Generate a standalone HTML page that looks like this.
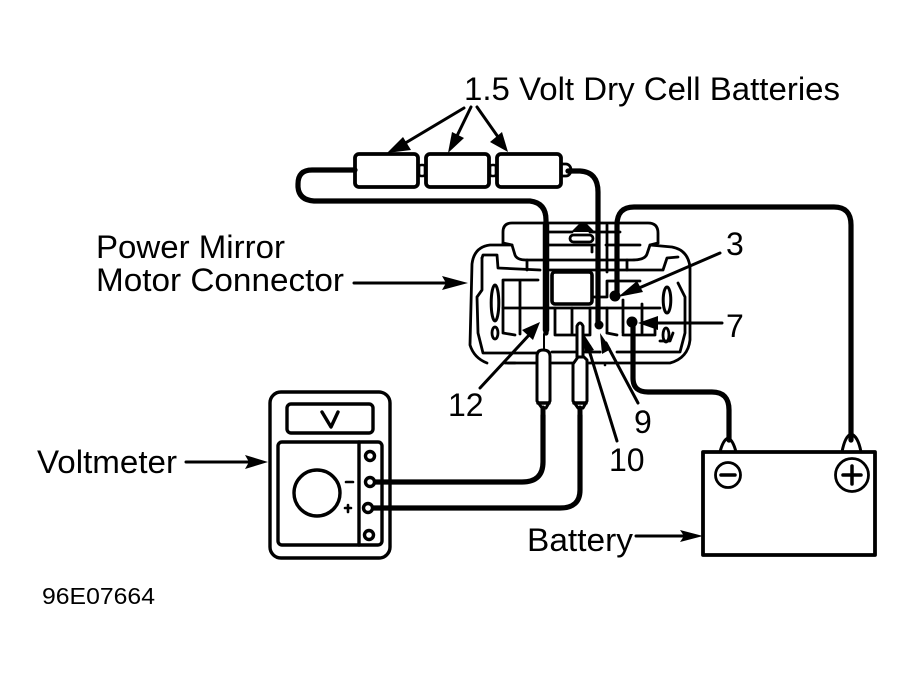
<!DOCTYPE html>
<html><head><meta charset="utf-8">
<style>
html,body{margin:0;padding:0;background:#fff;width:915px;height:680px;overflow:hidden}
svg{display:block}
text{font-family:"Liberation Sans",sans-serif;fill:#000}
.t{font-size:32px}
path,rect,circle,ellipse,line{stroke:#000;fill:none;stroke-linejoin:round;stroke-linecap:round}
.h{fill:#000;stroke:none}
</style></head><body>
<svg width="915" height="680" viewBox="0 0 915 680" xmlns="http://www.w3.org/2000/svg">
<text class="t" x="464" y="100" textLength="376" lengthAdjust="spacingAndGlyphs">1.5 Volt Dry Cell Batteries</text>
<text class="t" x="96" y="258" textLength="189" lengthAdjust="spacingAndGlyphs">Power Mirror</text>
<text class="t" x="96" y="291" textLength="248" lengthAdjust="spacingAndGlyphs">Motor Connector</text>
<text class="t" x="37" y="473" textLength="140" lengthAdjust="spacingAndGlyphs">Voltmeter</text>
<text class="t" x="527" y="551" textLength="106" lengthAdjust="spacingAndGlyphs">Battery</text>
<text class="t" x="726" y="255">3</text>
<text class="t" x="726" y="337">7</text>
<text class="t" x="448" y="416">12</text>
<text class="t" x="634" y="433">9</text>
<text class="t" x="609" y="471">10</text>
<text x="42" y="604" style="font-size:23px" textLength="113" lengthAdjust="spacingAndGlyphs">96E07664</text>

<!-- batteries -->
<g stroke-width="3.8">
<rect x="355" y="154" width="63" height="33" rx="4"/>
<rect x="426" y="154" width="63" height="33" rx="4"/>
<rect x="497" y="154" width="64" height="33" rx="4"/>
<rect x="419" y="165" width="6" height="11" rx="2" stroke-width="2.6"/>
<rect x="490" y="165" width="6" height="11" rx="2" stroke-width="2.6"/>
<path d="M562 164h4a5 6 0 0 1 0 12h-4" stroke-width="2.8"/>
</g>
<!-- battery label arrows -->
<g stroke-width="3">
<path d="M464 108L397 148M471 107L455 140M477 107L503 144"/>
</g>
<path class="h" d="M387 153L403 137L411 150Z"/>
<path class="h" d="M448 153L452 132L464 138Z"/>
<path class="h" d="M508 152L490 142L502 132Z"/>

<!-- connector -->
<g stroke-width="2.8">
<path d="M503 243V232Q503 223 512 223H648Q658 223 658 233V243"/>
<path d="M503 243L512 245L515 255Q517 260 526 260H632Q645 260 647 254L650 245L658 243"/>
<path d="M512 245H490Q474 247 472 264L470 345Q474 358 487 363M508 363H540M552 363H670Q688 358 690 340V267Q688 250 672 247L650 245"/>
<path d="M482 258L483 255H497L498 268L540 270M550 270H663L667 258L678 257"/>
<path d="M482 258V290L477 297L478 333L483 353H537M678 283L685 297V333L680 352H617M552 352H600"/>
<path d="M505 363H515M503 333V280H538M520 280V334M503 333L515 335"/>
<path d="M503 308H660"/>
<rect x="552" y="272" width="40" height="32" rx="3" stroke-width="3.6"/>
<path d="M592 297H607M607 297V281H640M607 333L617 335M623 300V333M642 304V333M623 335H655M655 335V325M660 341H670L673 333"/>
<path d="M555 308V335H590M572 308V335M590 308V335M607 308V333"/>
<ellipse cx="495" cy="303" rx="3.8" ry="18" stroke-width="3"/>
<ellipse cx="495" cy="333" rx="3" ry="6"/>
<ellipse cx="667" cy="300" rx="3.8" ry="13" stroke-width="3"/>
<ellipse cx="666" cy="335" rx="3" ry="7"/>
<path d="M548 232H572M590 232H620M548 245H596M606 245H640"/>
<rect x="570" y="235" width="23" height="7" rx="3.5"/>
<path d="M527 260V270M607 225V272M627 260V270M592 245V252"/>
</g>
<path class="h" d="M571 232L580 223H586L595 232Z"/>

<!-- wires -->
<g stroke-width="5.2">
<path d="M355 170H312Q298 170 298 184V187Q299 200 314 201H530Q546 203 546 220V333"/>
<path d="M568 171H580Q598 172 598 192V326"/>
<path d="M851 440V225Q851 207 834 207H634Q617 207 617 225V296"/>
<path d="M633 322V378Q633 392 648 392H712Q729 392 729 410V440"/>
<path d="M543 415V462Q543 482 522 482H376"/>
<path d="M580 415V490Q580 508 560 508H374"/>
</g>
<path d="M546 225V330" stroke-width="6.5"/>
<circle class="h" cx="615" cy="296" r="5.5"/>
<circle class="h" cx="632" cy="322" r="5.5"/>
<circle class="h" cx="599" cy="325" r="4.5"/>
<circle class="h" cx="600" cy="352" r="1.3"/>
<circle class="h" cx="605" cy="365" r="1.3"/>
<circle class="h" cx="590" cy="346" r="1.2"/>

<!-- probes -->
<g stroke-width="3">
<path d="M544 334V350" stroke-width="2"/>
<path d="M537 356Q537 350 543 350Q550 350 550 356V401L546 408H542L537 401Z" fill="#fff" style="fill:#fff"/>
<path d="M573 364L578 357H584L587 360V401L583 408H578L573 401Z" style="fill:#fff"/>
<path d="M577 326Q580 320 583 326V357H577Z" style="fill:#fff"/>
</g>
<path d="M543 408V418M580 408V418" stroke-width="5"/>
<path d="M538 403H549M574 403H586" stroke-width="3.5"/>

<!-- connector label arrows -->
<g stroke-width="3">
<path d="M354 283H445"/>
<path d="M720 253L632 291"/>
<path d="M722 323H650"/>
<path d="M480 388L530 334"/>
<path d="M638 403L606 343"/>
<path d="M617 441L589 350"/>
<path d="M186 462H250"/>
<path d="M636 536H685"/>
</g>
<path class="h" d="M468 283L442 276L446 283L442 290Z"/>
<path class="h" d="M618 297L637 281L643 292Z"/>
<path class="h" d="M638 323L658 316V330Z"/>
<path class="h" d="M540 322L533 340L522 330Z"/>
<path class="h" d="M600 333L611 349L602 354Z"/>
<path class="h" d="M583 333L594 350L585 353Z"/>
<path class="h" d="M268 462L245 455L249 462L245 469Z"/>
<path class="h" d="M703 536L680 530L684 536L680 542Z"/>

<!-- voltmeter -->
<g stroke-width="3.4">
<rect x="270" y="392" width="120" height="166" rx="11"/>
<rect x="287" y="404" width="86" height="29" rx="4"/>
<rect x="278" y="442" width="104" height="103" rx="4"/>
<path d="M359 442V545"/>
<circle cx="317" cy="493" r="23"/>
<circle cx="370" cy="456" r="4.5"/>
<circle cx="370" cy="482" r="4.5"/>
<circle cx="368" cy="508" r="4.5"/>
<circle cx="369" cy="535" r="4.5"/>
<path d="M322 412L331 427L338 412" stroke-width="3.4"/>
<path d="M346 482H353M345 508H351M348 505V512" stroke-width="2.6"/>
</g>

<!-- battery -->
<g stroke-width="3.8">
<rect x="703" y="452" width="172" height="103"/>
<path d="M720 452Q723 440 728 438Q733 440 736 452" stroke-width="3"/>
<path d="M842 452Q845 436 851 434Q858 436 861 452" stroke-width="3"/>
</g>
<g stroke-width="2.8">
<circle cx="728" cy="475" r="12.5"/>
<circle cx="852" cy="475" r="16.5"/>
</g>
<path d="M721 475H735M843 475H861M852 466V484" stroke-width="3.5"/>
</svg>
</body></html>
